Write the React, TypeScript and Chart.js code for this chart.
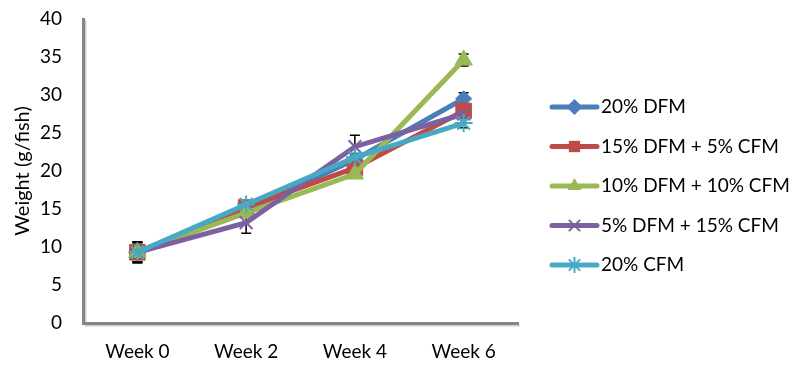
import React, { useEffect, useRef } from "react";
import { Chart, registerables } from "chart.js";

Chart.register(...registerables);

const categories = ["Week 0", "Week 2", "Week 4", "Week 6"];
const seriesNames = ["20% DFM", "15% DFM + 5% CFM", "10% DFM + 10% CFM", "5% DFM + 15% CFM", "20% CFM"];
const dfm20 = [9.3, 14.8, 21.5, 29.5];
const dfm15cfm5 = [9.3, 15.2, 20.4, 27.9];
const dfm10cfm10 = [9.3, 14.5, 19.6, 34.6];
const dfm5cfm15 = [9.3, 13.2, 23.2, 27.5];
const cfm20 = [9.3, 15.6, 21.8, 26.3];
const err20dfm = [1.3, 0.8, 0.6, 0.8];
const err15dfm = [1.3, 0.6, 0.6, 0.5];
const err10dfm = [1.3, 0.5, 0.5, 0.8];
const err5dfm = [1.4, 1.4, 1.5, 0.5];
const err20cfm = [1.3, 0.4, 0.5, 0.6];
const yTicks = [0, 5, 10, 15, 20, 25, 30, 35, 40];

const colors = ["#4A7EBB", "#BE4B48", "#98B954", "#7D60A0", "#46AAC5"];
const styles = ["rectRot", "rect", "triangle", "crossRot", "star"];
const radii = [8, 11, 10, 9, 9];
const FONT = "Lato";
const FS = 19;

const errorBarPlugin = {
  id: "errorBars",
  beforeDatasetsDraw(chart: any) {
    const ctx = chart.ctx;
    const y = chart.scales.y;
    ctx.save();
    ctx.strokeStyle = "#000";
    ctx.lineWidth = 1.5;
    chart.data.datasets.forEach((ds: any, i: number) => {
      const meta = chart.getDatasetMeta(i);
      meta.data.forEach((pt: any, j: number) => {
        const v = ds.data[j];
        const e = ds.errors[j];
        const y1 = y.getPixelForValue(v + e);
        const y2 = y.getPixelForValue(v - e);
        ctx.beginPath();
        ctx.moveTo(pt.x, y1);
        ctx.lineTo(pt.x, y2);
        ctx.moveTo(pt.x - 5, y1);
        ctx.lineTo(pt.x + 5, y1);
        ctx.moveTo(pt.x - 5, y2);
        ctx.lineTo(pt.x + 5, y2);
        ctx.stroke();
      });
    });
    ctx.restore();
  },
};

const axisShadowPlugin = {
  id: "axisShadow",
  beforeDraw(chart: any) {
    const { ctx, chartArea } = chart;
    ctx.save();
    ctx.strokeStyle = "#d0d0d0";
    ctx.lineWidth = 2;
    ctx.beginPath();
    ctx.moveTo(chartArea.left + 2.5, chartArea.top + 1);
    ctx.lineTo(chartArea.left + 2.5, chartArea.bottom + 3);
    ctx.moveTo(chartArea.left + 2, chartArea.bottom + 2.5);
    ctx.lineTo(chartArea.right + 2, chartArea.bottom + 2.5);
    ctx.stroke();
    ctx.restore();
  },
};

function drawMarker(ctx: CanvasRenderingContext2D, style: string, r: number, x: number, y: number) {
  ctx.beginPath();
  if (style === "rectRot") {
    ctx.moveTo(x - r, y);
    ctx.lineTo(x, y - r);
    ctx.lineTo(x + r, y);
    ctx.lineTo(x, y + r);
    ctx.closePath();
    ctx.fill();
  } else if (style === "rect") {
    const s = r * Math.SQRT1_2;
    ctx.rect(x - s, y - s, 2 * s, 2 * s);
    ctx.fill();
  } else if (style === "triangle") {
    ctx.moveTo(x, y - r);
    ctx.lineTo(x + r * 0.866, y + r * 0.5);
    ctx.lineTo(x - r * 0.866, y + r * 0.5);
    ctx.closePath();
    ctx.fill();
  } else if (style === "crossRot") {
    const s = r * Math.SQRT1_2;
    ctx.moveTo(x - s, y - s);
    ctx.lineTo(x + s, y + s);
    ctx.moveTo(x + s, y - s);
    ctx.lineTo(x - s, y + s);
    ctx.stroke();
  } else if (style === "star") {
    const s = r * Math.SQRT1_2;
    ctx.moveTo(x - s, y - s);
    ctx.lineTo(x + s, y + s);
    ctx.moveTo(x + s, y - s);
    ctx.lineTo(x - s, y + s);
    ctx.moveTo(x, y - r);
    ctx.lineTo(x, y + r);
    ctx.stroke();
  }
}

const legendPlugin = {
  id: "customLegend",
  afterDraw(chart: any) {
    const ctx = chart.ctx;
    ctx.save();
    const x0 = 552;
    const x1 = 597;
    const startY = 107;
    const step = 39.5;
    chart.data.datasets.forEach((ds: any, i: number) => {
      const yy = startY + i * step;
      ctx.strokeStyle = ds.borderColor;
      ctx.lineWidth = 5;
      ctx.lineCap = "round";
      ctx.beginPath();
      ctx.moveTo(x0, yy);
      ctx.lineTo(x1, yy);
      ctx.stroke();
      ctx.lineCap = "butt";
      const mx = (x0 + x1) / 2;
      ctx.fillStyle = ds.pointBackgroundColor;
      ctx.strokeStyle = ds.pointBorderColor;
      ctx.lineWidth = ds.pointBorderWidth;
      const r = Math.min(ds.pointRadius, 8);
      drawMarker(ctx, ds.pointStyle, r, mx, yy);
      ctx.fillStyle = "#000";
      ctx.font = `${FS}px ${FONT}`;
      ctx.textBaseline = "middle";
      ctx.textAlign = "left";
      ctx.fillText(ds.label, 601, yy);
    });
    ctx.restore();
  },
};

export default function App() {
  const ref = useRef<HTMLCanvasElement>(null);
  useEffect(() => {
    if (!ref.current) return;
    const seriesData = [dfm20, dfm15cfm5, dfm10cfm10, dfm5cfm15, cfm20];
    const errs = [err20dfm, err15dfm, err10dfm, err5dfm, err20cfm];
    const datasets = seriesData.map((d, i) => ({
      label: seriesNames[i],
      data: d,
      errors: errs[i],
      borderColor: colors[i],
      backgroundColor: colors[i],
      borderWidth: 5,
      pointStyle: styles[i],
      pointRadius: radii[i],
      pointBackgroundColor: colors[i],
      pointBorderColor: colors[i],
      pointBorderWidth: i >= 3 ? 2 : 1,
      order: 4 - i,
      tension: 0,
    }));
    const chart = new Chart(ref.current, {
      type: "line",
      data: { labels: categories, datasets: datasets as any },
      options: {
        animation: false,
        responsive: false,
        layout: { padding: { left: 0, top: 19, right: 282, bottom: 0 } },
        plugins: { legend: { display: false }, tooltip: { enabled: false } },
        scales: {
          x: {
            offset: true,
            grid: { display: false, drawTicks: false },
            border: { display: true, color: "#868686", width: 3 },
            ticks: { color: "#000", font: { family: FONT, size: FS }, padding: 17 },
            afterFit: (s: any) => { s.height = 52; s.paddingLeft = 0; s.paddingRight = 0; },
          },
          y: {
            min: 0,
            max: 40,
            afterBuildTicks: (s: any) => { s.ticks = yTicks.map((v) => ({ value: v })); },
            grid: { display: false, drawTicks: false },
            border: { display: true, color: "#868686", width: 3 },
            ticks: { color: "#000", font: { family: FONT, size: FS }, padding: 21 },
            title: {
              display: true,
              text: "Weight (g/fish)",
              color: "#000",
              font: { family: FONT, size: 20 },
              padding: { top: 11, bottom: 0 },
            },
            afterFit: (s: any) => { s.width = 83; s.paddingTop = 0; s.paddingBottom = 0; },
          },
        },
      },
      plugins: [axisShadowPlugin, errorBarPlugin, legendPlugin],
    });
    return () => chart.destroy();
  }, []);
  return (
    <div style={{ position: "absolute", left: 0, top: 0, width: 800, height: 375, background: "#fff" }}>
      <canvas ref={ref} width={800} height={375} />
    </div>
  );
}
